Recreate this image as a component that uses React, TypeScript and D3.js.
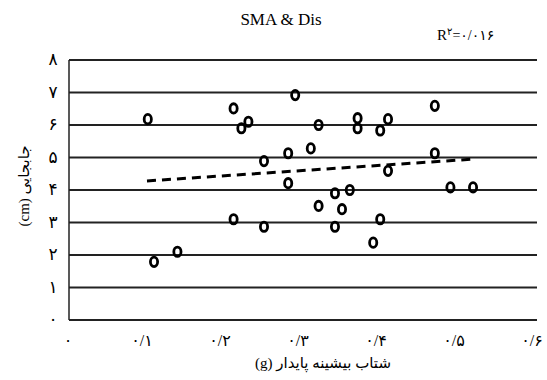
import React from "react";
import * as d3 from "d3";

// Peak ground acceleration (g) vs displacement (cm)
const pga: number[] = [
  0.101, 0.109, 0.139, 0.211, 0.211, 0.221, 0.23, 0.25, 0.25, 0.281,
  0.281, 0.29, 0.31, 0.32, 0.32, 0.341, 0.341, 0.35, 0.36, 0.37,
  0.37, 0.39, 0.399, 0.399, 0.409, 0.409, 0.469, 0.469, 0.489, 0.518,
];
const disp: number[] = [
  6.18, 1.79, 2.1, 6.51, 3.1, 5.9, 6.1, 4.89, 2.87, 5.13,
  4.21, 6.92, 5.28, 6.0, 3.51, 3.9, 2.87, 3.41, 4.0, 6.21,
  5.9, 2.38, 5.83, 3.1, 6.18, 4.59, 6.59, 5.13, 4.08, 4.08,
];

// Linear trend line
const trendSlope = 1.6;
const trendIntercept = 4.12;
const trendRange: number[] = [0.1, 0.521];

const xTicks: number[] = [0, 0.1, 0.2, 0.3, 0.4, 0.5, 0.6];
const xTickLabels: string[] = ["۰", "۰/۱", "۰/۲", "۰/۳", "۰/۴", "۰/۵", "۰/۶"];
const yTicks: number[] = [0, 1, 2, 3, 4, 5, 6, 7, 8];
const yTickLabels: string[] = ["۰", "۱", "۲", "۳", "۴", "۵", "۶", "۷", "۸"];

const W = 547;
const H = 380;
const left = 69;
const right = 537;
const top = 60;
const bottom = 320;

export default function App() {
  const x = d3.scaleLinear().domain([0, 0.6]).range([left, right]);
  const y = d3.scaleLinear().domain([0, 8]).range([bottom, top]);
  const line = d3
    .line<number>()
    .x((v) => x(v))
    .y((v) => y(trendSlope * v + trendIntercept));

  // Latin glyphs from the serif face, Arabic script falls back to DejaVu Sans
  const font = "'Liberation Serif', 'DejaVu Serif', 'DejaVu Sans', serif";

  return (
    <svg
      width={W}
      height={H}
      style={{ position: "absolute", left: 0, top: 0, background: "#fff" }}
    >
      <text x={281} y={25} textAnchor="middle" fontFamily={font} fontSize={17} fill="#000">
        SMA &amp; Dis
      </text>
      <text x={437} y={40} fontFamily={font} fontSize={15} fill="#000">
        R
        <tspan fontSize={10} dy={-5}>۲</tspan>
        <tspan fontSize={14} dy={5}>=۰/۰۱۶</tspan>
      </text>

      {/* horizontal gridlines */}
      {yTicks.map((t) => (
        <line
          key={"g" + t}
          x1={left}
          x2={right}
          y1={y(t)}
          y2={y(t)}
          stroke="#222"
          strokeWidth={1.8}
        />
      ))}
      <line x1={left} x2={left} y1={top} y2={bottom} stroke="#222" strokeWidth={1.5} />

      {/* y tick labels */}
      {yTicks.map((t, i) => (
        <text
          key={"yl" + t}
          x={53}
          y={y(t)}
          dy="0.3em"
          textAnchor="middle"
          fontFamily={font}
          fontSize={17}
          fill="#000"
        >
          {yTickLabels[i]}
        </text>
      ))}

      {/* x tick labels */}
      {xTicks.map((t, i) => (
        <text
          key={"xl" + t}
          x={x(t) - (i === 0 ? 1 : 5)}
          y={346}
          textAnchor="middle"
          fontFamily={font}
          fontSize={16}
          fill="#000"
        >
          {xTickLabels[i]}
        </text>
      ))}

      {/* axis titles */}
      <text
        x={323}
        y={368}
        textAnchor="middle"
        fontFamily={font}
        fontSize={15}
        fill="#000"
        direction="rtl"
      >
        شتاب بیشینه پایدار (g)
      </text>
      <text
        transform="translate(29,186) rotate(-90)"
        textAnchor="middle"
        fontFamily={font}
        fontSize={15}
        fill="#000"
        direction="rtl"
      >
        جابجایی (cm)
      </text>

      {/* points */}
      {pga.map((v, i) => (
        <ellipse
          key={"p" + i}
          cx={x(v)}
          cy={y(disp[i])}
          rx={3.6}
          ry={4.7}
          fill="none"
          stroke="#000"
          strokeWidth={2.8}
        />
      ))}

      {/* trend line */}
      <path
        d={line(trendRange) || ""}
        fill="none"
        stroke="#000"
        strokeWidth={3}
        strokeDasharray="9,6"
      />
    </svg>
  );
}
